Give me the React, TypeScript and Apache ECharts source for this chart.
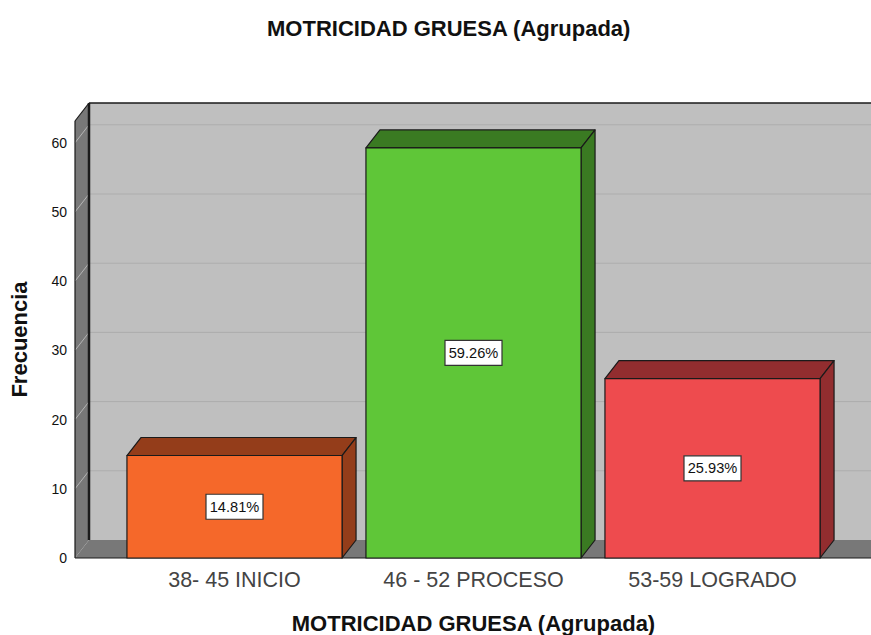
import React, { useEffect, useRef } from "react";
import * as echarts from "echarts";

const categories = ["38- 45 INICIO", "46 - 52 PROCESO", "53-59 LOGRADO"];
const percentValues = [14.81, 59.26, 25.93];
const percentLabels = ["14.81%", "59.26%", "25.93%"];
const frontColors = ["#f5682a", "#5fc638", "#ee4b4e"];
const sideColors = ["#943d1a", "#3a7a22", "#922d2f"];
const topColors = ["#943d1a", "#3a7a22", "#922d2f"];
const gridValues = [10, 20, 30, 40, 50, 60];
const titleText = "MOTRICIDAD GRUESA (Agrupada)";
const yAxisTitle = "Frecuencia";
const axisMax = 63.15;
const depthX = 14;
const depthY = -18;
const FONT = "Liberation Sans, Arial, sans-serif";

export default function App() {
  const ref = useRef<HTMLDivElement>(null);
  useEffect(() => {
    document.body.style.margin = "0";
    const chart = echarts.init(ref.current!, undefined, { renderer: "svg" });
    chart.setOption({
      animation: false,
      backgroundColor: "#ffffff",
      title: {
        text: titleText,
        left: 262,
        top: 12,
        textStyle: { fontFamily: FONT, fontSize: 22, fontWeight: "bold", color: "#111" },
      },
      grid: { left: 115, top: 121, width: 717, height: 437, containLabel: false, outerBoundsMode: "none" },
      xAxis: {
        type: "category",
        data: categories,
        name: titleText,
        nameLocation: "middle",
        nameGap: 54,
        nameTextStyle: { fontFamily: FONT, fontSize: 22, fontWeight: "bold", color: "#111" },
        axisLine: { show: false },
        axisTick: { show: false },
        axisLabel: { fontFamily: FONT, fontSize: 21.5, color: "#444", margin: 11 },
      },
      yAxis: {
        type: "value",
        min: 0,
        max: axisMax,
        interval: 10,
        offset: 40,
        name: yAxisTitle,
        nameLocation: "middle",
        nameGap: 45,
        nameTextStyle: { fontFamily: FONT, fontSize: 22, fontWeight: "bold", color: "#111" },
        axisLine: { show: false },
        axisTick: { show: false },
        splitLine: { show: false },
        axisLabel: { fontFamily: FONT, fontSize: 14, color: "#111", margin: 8, showMaxLabel: false, padding: [2, 0, 0, 0] },
      },
      series: [
        {
          type: "custom",
          silent: true,
          z: 1,
          data: [[0, 0]],
          encode: { x: 0, y: 1 },
          renderItem: (params: any, api: any) => {
            const c = params.coordSys;
            const y0 = api.coord([0, 0])[1];
            const yTop = c.y;
            const x0 = c.x - 40;
            const xEnd = api.getWidth();
            const bx = x0 + depthX;
            const children: any[] = [
              { type: "polygon", shape: { points: [[bx, yTop + depthY], [xEnd, yTop + depthY], [xEnd, y0 + depthY], [bx, y0 + depthY]] }, style: { fill: "#bfbfbf" } },
              { type: "polygon", shape: { points: [[x0, yTop], [bx, yTop + depthY], [bx, y0 + depthY], [x0, y0]] }, style: { fill: "#787878" } },
              { type: "polygon", shape: { points: [[x0, y0], [bx, y0 + depthY], [xEnd, y0 + depthY], [xEnd, y0]] }, style: { fill: "#787878" } },
            ];
            gridValues.forEach((v) => {
              const y = api.coord([0, v])[1];
              children.push({ type: "line", shape: { x1: bx, y1: y + depthY, x2: xEnd, y2: y + depthY }, style: { stroke: "#adadad", lineWidth: 1 } });
              children.push({ type: "line", shape: { x1: x0, y1: y, x2: bx, y2: y + depthY }, style: { stroke: "#b5b5b5", lineWidth: 1 } });
            });
            children.push(
              { type: "line", shape: { x1: bx, y1: yTop + depthY, x2: xEnd, y2: yTop + depthY }, style: { stroke: "#1a1a1a", lineWidth: 1.5 } },
              { type: "line", shape: { x1: bx, y1: yTop + depthY, x2: bx, y2: y0 + depthY }, style: { stroke: "#1a1a1a", lineWidth: 2.5 } },
              { type: "line", shape: { x1: x0, y1: yTop, x2: bx, y2: yTop + depthY }, style: { stroke: "#1a1a1a", lineWidth: 1.2 } },
              { type: "line", shape: { x1: x0, y1: yTop, x2: x0, y2: y0 }, style: { stroke: "#1a1a1a", lineWidth: 1.2 } },
              { type: "line", shape: { x1: x0, y1: y0, x2: xEnd, y2: y0 }, style: { stroke: "#1a1a1a", lineWidth: 1.2 } },
            );
            return { type: "group", children };
          },
        },
        {
          type: "custom",
          silent: true,
          z: 2,
          data: percentValues.map((v, i) => [i, v]),
          encode: { x: 0, y: 1 },
          renderItem: (params: any, api: any) => {
            const i = api.value(0);
            const v = api.value(1);
            const top = api.coord([i, v]);
            const base = api.coord([i, 0]);
            const mid = api.coord([i, v / 2]);
            const w = api.size([1, 0])[0] * 0.9;
            const l = top[0] - w / 2;
            const r = top[0] + w / 2;
            const t = top[1];
            const b = base[1];
            const edge = { stroke: "#1a1a1a", lineWidth: 1.2, lineJoin: "round" };
            return {
              type: "group",
              children: [
                { type: "polygon", shape: { points: [[l, t], [l + depthX, t + depthY], [r + depthX, t + depthY], [r, t]] }, style: { fill: topColors[i], ...edge } },
                { type: "polygon", shape: { points: [[r, t], [r + depthX, t + depthY], [r + depthX, b + depthY], [r, b]] }, style: { fill: sideColors[i], ...edge } },
                { type: "rect", shape: { x: l, y: t, width: w, height: b - t }, style: { fill: frontColors[i], ...edge } },
                { type: "rect", shape: { x: top[0] - 28.5, y: mid[1] - 12.5, width: 57, height: 25 }, style: { fill: "#ffffff", stroke: "#333", lineWidth: 1.2 } },
                { type: "text", style: { x: top[0], y: mid[1], text: percentLabels[i], align: "center", verticalAlign: "middle", fill: "#111", font: `14.6px ${FONT}` } },
              ],
            };
          },
        },
      ],
    });
    return () => chart.dispose();
  }, []);
  return <div ref={ref} style={{ width: 871, height: 635 }} />;
}
